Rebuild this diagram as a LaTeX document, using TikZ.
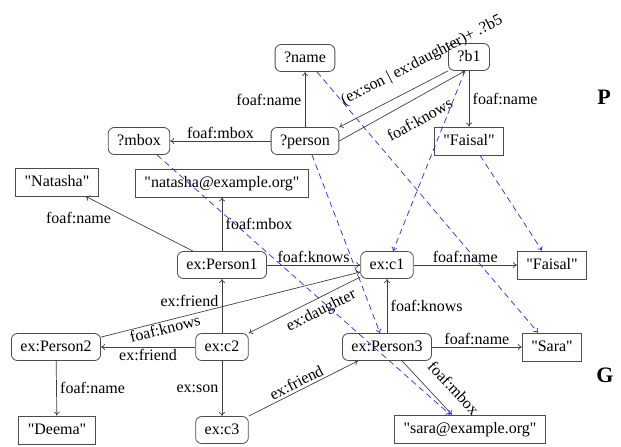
\documentclass[tikz,border=0pt]{standalone}
\usepackage{fontspec}
\setmainfont{Liberation Serif}[Ligatures=TeXOff]
\usetikzlibrary{arrows.meta}

\begin{document}
\begin{tikzpicture}[x=1pt,y=-1pt,
    font=\fontsize{16}{18}\selectfont,
    var/.style={draw=black!70, rounded corners=6pt, inner xsep=9pt, inner ysep=0pt,
      minimum height=27pt, text height=11pt, text depth=3pt, line width=.8pt},
    lit/.style={draw=black!70, inner xsep=9pt, inner ysep=0pt,
      minimum height=28pt, text height=11pt, text depth=3pt, line width=.8pt},
    rel/.style={draw=black!75, line width=.7pt, -{To[length=4pt,width=6pt]}},
    map/.style={draw=blue!85!white, line width=.7pt, dash pattern=on 6pt off 4pt,
      -{To[length=4pt,width=6pt]}},
    tag/.style={font=\fontsize{22}{24}\selectfont\bfseries}]
  \useasboundingbox (0,0) rectangle (621,447);

  % query pattern P
  \node[var] (name) at (305,58) {?name};
  \node[var] (b1) at (469,57) {?b1};
  \node[var] (person) at (305,141) {?person};
  \node[var] (mbox) at (139,141) {?mbox};
  \node[lit] (faisalP) at (469,141) {"Faisal"};
  \node[tag] (P) at (604,97) {P};

  \draw[rel] (person) -- node[left] {foaf:name} (name);
  \draw[rel] (person) -- node[above=-1pt] {foaf:mbox} (mbox);
  \draw[rel] (b1.south west) -- node[sloped, above=10pt, pos=.15] {(ex:son | ex:daughter)+ .?b5} (person.north east);
  \draw[rel] (person.east) -- node[sloped, below=11pt, pos=.56] {foaf:knows} ([xshift=-4pt]b1.south);
  \draw[rel] (b1) -- node[right] {foaf:name} (faisalP);

  % data graph G
  \node[lit] (natasha) at (57,182) {"Natasha"};
  \node[lit] (natmail) at (222,183) {"natasha@example.org"};
  \node[var] (p1) at (222,265) {ex:Person1};
  \node[var] (c1) at (387,265) {ex:c1};
  \node[lit] (faisalG) at (552,265) {"Faisal"};
  \node[var] (p2) at (56,347) {ex:Person2};
  \node[var] (c2) at (222,347) {ex:c2};
  \node[var] (p3) at (387,347) {ex:Person3};
  \node[lit] (sara) at (552,347) {"Sara"};
  \node[lit] (deema) at (57,430) {"Deema"};
  \node[var] (c3) at (222,430) {ex:c3};
  \node[lit] (saramail) at (470,429) {"sara@example.org"};
  \node[tag] (G) at (605,375) {G};

  \draw[rel] ([xshift=16pt]p1.north west) -- node[pos=.6, left=14pt] {foaf:name} ([xshift=-13pt]natasha.south east);
  \draw[rel] (p1) -- node[right] {foaf:mbox} (natmail);
  \draw[rel] (p1) -- node[above=-1pt] {foaf:knows} (c1);
  \draw[rel] (c1) -- node[above=-1pt] {foaf:name} (faisalG);
  \draw[rel] (c2) -- node[left, pos=.6] {ex:friend} (p1);
  \draw[rel] (c2) -- node[below=-1pt] {ex:friend} (p2);
  \draw[rel] ([yshift=-4pt]p2.north east) -- node[sloped, below=-2pt, pos=.24] {foaf:knows} ([yshift=-7pt]c1.west);
  \draw[rel] ([yshift=-12pt]c1.west) -- node[sloped, below=2pt, pos=.4] {ex:daughter} (c2.north east);
  \draw[rel] (c2) -- node[left] {ex:son} (c3);
  \draw[rel] (p2) -- node[right] {foaf:name} (deema);
  \draw[rel] (c3.north east) -- node[sloped, above=-1pt, pos=.47] {ex:friend} ([xshift=-29pt]p3.south);
  \draw[rel] (p3) -- node[right] {foaf:knows} (c1);
  \draw[rel] (p3) -- node[above=-1pt] {foaf:name} (sara);
  \draw[rel] ([xshift=15pt]p3.south) -- node[sloped, above=10pt, pos=.75] {foaf:mbox} ([xshift=-18pt]saramail.north);

  % matches from P into G
  \draw[map] ([xshift=12pt]name.south) -- ([xshift=-14pt]sara.north);
  \draw[map] ([xshift=18pt]mbox.south) -- ([xshift=-20pt]saramail.north);
  \draw[map] ([xshift=7pt]person.south) -- ([xshift=-7pt]p3.north);
  \draw[map] ([xshift=-4pt]b1.south) -- ([xshift=6pt]c1.north);
  \draw[map] ([xshift=11pt]faisalP.south) -- ([xshift=-10pt]faisalG.north);
\end{tikzpicture}
\end{document}
